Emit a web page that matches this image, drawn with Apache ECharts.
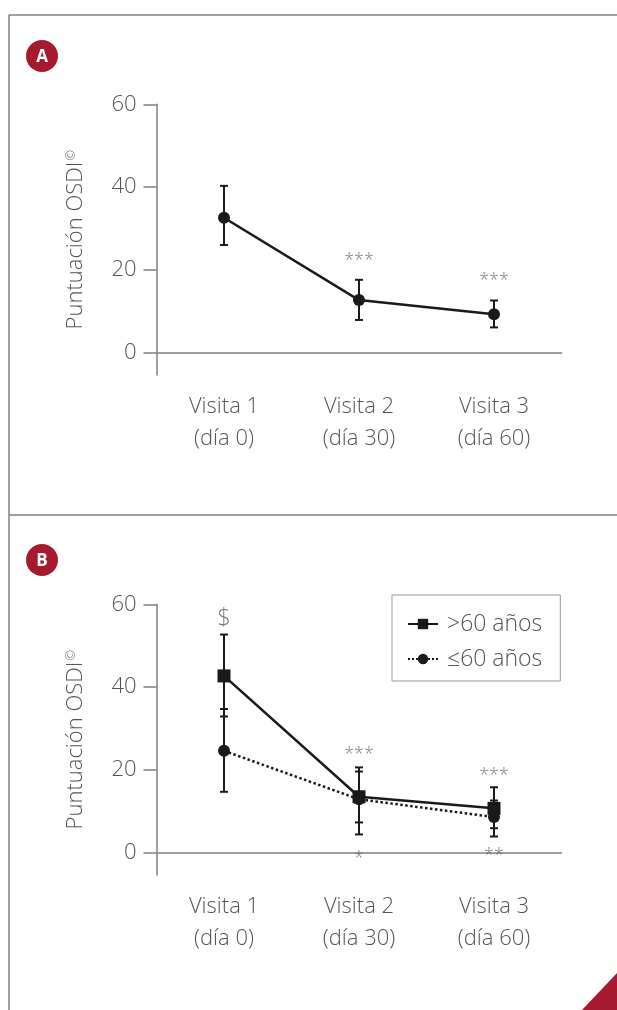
<!DOCTYPE html>
<html>
<head>
<meta charset="utf-8">
<script src="https://cdn.jsdelivr.net/npm/echarts@6/dist/echarts.min.js"></script>
<style>
  html, body { margin: 0; padding: 0; background: #fff; }
  #main { width: 617px; height: 1010px; }
</style>
</head>
<body>
<div id="main"></div>
<script>
// datos
const categories = ['Visita 1\n(día 0)', 'Visita 2\n(día 30)', 'Visita 3\n(día 60)']
const yTicks = [0, 20, 40, 60]

// panel A: todos los pacientes
const totalMean = [32.6, 12.7, 9.3]
const totalLow = [26.0, 7.9, 6.1]
const totalHigh = [40.3, 17.6, 12.6]
const annotA = [
  { x: 1, y: 22.2, text: '***' },
  { x: 2, y: 17.3, text: '***' }
]

// panel B: por edad
const overName = '>60 años'
const overMean = [42.7, 13.5, 10.7]
const overLow = [32.9, 4.4, 5.9]
const overHigh = [52.7, 20.6, 15.8]
const underName = '≤60 años'
const underMean = [24.6, 12.9, 8.6]
const underLow = [14.7, 7.3, 3.9]
const underHigh = [34.7, 19.6, 12.6]
const annotB = [
  { x: 0, y: 56.7, text: '$' },
  { x: 1, y: 23.6, text: '***' },
  { x: 1, y: -1.4, text: '*' },
  { x: 2, y: 18.6, text: '***' },
  { x: 2, y: -0.9, text: '**' }
]

const FONT = "'Open Sans', 'Noto Sans', sans-serif"
const AXIS_GREY = '#808080'
const TEXT_GREY = '#555555'
const INK = '#1a1a1a'
const RED = '#a6192e'

const chart = echarts.init(document.getElementById('main'))

function xAxisCfg(gridIndex) {
  return {
    type: 'category',
    gridIndex,
    data: categories,
    boundaryGap: true,
    axisLine: { lineStyle: { color: AXIS_GREY, width: 1.5 } },
    axisTick: { alignWithLabel: true, length: 11, lineStyle: { color: AXIS_GREY, width: 1.5 } },
    axisLabel: { fontFamily: FONT, fontWeight: 300, fontSize: 22, lineHeight: 32, color: TEXT_GREY, margin: 16 },
    splitLine: { show: false }
  }
}

function yAxisCfg(gridIndex) {
  return {
    type: 'value',
    gridIndex,
    min: -5.4,
    max: 60,
    name: 'Puntuación OSDI{sup|©}',
    nameLocation: 'middle',
    nameGap: 70,
    nameTextStyle: {
      fontFamily: FONT,
      fontWeight: 300,
      fontSize: 22,
      color: TEXT_GREY,
      rich: {
        sup: { fontFamily: FONT, fontSize: 13, color: TEXT_GREY, verticalAlign: 'top', padding: [0, 0, 9, 1] }
      }
    },
    axisLine: { show: true, lineStyle: { color: AXIS_GREY, width: 1.5 } },
    axisTick: { show: true, length: 13, customValues: yTicks, lineStyle: { color: AXIS_GREY, width: 1.5 } },
    axisLabel: { fontFamily: FONT, fontWeight: 300, fontSize: 22, color: TEXT_GREY, margin: 20, customValues: yTicks },
    splitLine: { show: false }
  }
}

function errorSeries(idx, low, high) {
  return {
    type: 'custom',
    xAxisIndex: idx,
    yAxisIndex: idx,
    z: 1,
    silent: true,
    data: low.map((l, i) => [i, l, high[i]]),
    renderItem: function (params, api) {
      const x = api.value(0)
      const lo = api.coord([x, api.value(1)])
      const hi = api.coord([x, api.value(2)])
      const w = 4
      const style = { stroke: INK, lineWidth: 2 }
      return {
        type: 'group',
        children: [
          { type: 'line', shape: { x1: lo[0], y1: lo[1], x2: hi[0], y2: hi[1] }, style },
          { type: 'line', shape: { x1: lo[0] - w, y1: lo[1], x2: lo[0] + w, y2: lo[1] }, style },
          { type: 'line', shape: { x1: hi[0] - w, y1: hi[1], x2: hi[0] + w, y2: hi[1] }, style }
        ]
      }
    }
  }
}

function annotSeries(idx, list) {
  return {
    type: 'scatter',
    xAxisIndex: idx,
    yAxisIndex: idx,
    symbolSize: 0,
    silent: true,
    data: list.map((a) => ({
      value: [a.x, a.y],
      name: a.text,
      label: a.text === '$' ? { fontSize: 23 } : {}
    })),
    label: {
      show: true,
      position: 'inside',
      formatter: '{b}',
      fontFamily: FONT,
      fontWeight: 300,
      fontSize: 18,
      color: TEXT_GREY
    }
  }
}

const option = {
  animation: false,
  backgroundColor: '#ffffff',
  grid: [
    { left: 156.5, top: 104.3, width: 405, height: 270.7 },
    { left: 156.5, top: 604.3, width: 405, height: 270.7 }
  ],
  xAxis: [xAxisCfg(0), xAxisCfg(1)],
  yAxis: [yAxisCfg(0), yAxisCfg(1)],
  legend: {
    data: [overName, underName],
    left: 392,
    top: 595,
    orient: 'vertical',
    itemWidth: 30,
    itemHeight: 13,
    itemGap: 11,
    padding: [17, 18, 10, 15],
    borderColor: '#999999',
    borderWidth: 1,
    textStyle: { fontFamily: FONT, fontWeight: 300, fontSize: 23, lineHeight: 24, color: TEXT_GREY, padding: [0, 0, 0, 4] }
  },
  graphic: [
    // marco de los paneles
    { type: 'line', shape: { x1: 9, y1: 15, x2: 617, y2: 15 }, style: { stroke: AXIS_GREY, lineWidth: 1.5 } },
    { type: 'line', shape: { x1: 9, y1: 515, x2: 617, y2: 515 }, style: { stroke: AXIS_GREY, lineWidth: 1.5 } },
    { type: 'line', shape: { x1: 9, y1: 15, x2: 9, y2: 1010 }, style: { stroke: AXIS_GREY, lineWidth: 1.5 } },
    // etiquetas A / B
    { type: 'circle', shape: { cx: 42, cy: 56, r: 16 }, style: { fill: RED } },
    { type: 'text', x: 42, y: 57, style: { text: 'A', fill: '#fff', font: "bold 17px 'Open Sans', sans-serif", align: 'center', verticalAlign: 'middle' } },
    { type: 'circle', shape: { cx: 42, cy: 560, r: 16 }, style: { fill: RED } },
    { type: 'text', x: 42, y: 561, style: { text: 'B', fill: '#fff', font: "bold 17px 'Open Sans', sans-serif", align: 'center', verticalAlign: 'middle' } },
    // esquina roja
    { type: 'polygon', shape: { points: [[582, 1010], [617, 973], [617, 1010]] }, style: { fill: RED } }
  ],
  series: [
    errorSeries(0, totalLow, totalHigh),
    {
      type: 'line',
      xAxisIndex: 0,
      yAxisIndex: 0,
      z: 3,
      data: totalMean,
      symbol: 'circle',
      symbolSize: 12,
      itemStyle: { color: INK },
      lineStyle: { color: INK, width: 2.5 }
    },
    annotSeries(0, annotA),
    errorSeries(1, overLow, overHigh),
    errorSeries(1, underLow, underHigh),
    {
      name: overName,
      type: 'line',
      xAxisIndex: 1,
      yAxisIndex: 1,
      z: 3,
      data: overMean,
      symbol: 'rect',
      symbolSize: 13,
      itemStyle: { color: INK },
      lineStyle: { color: INK, width: 2.5 }
    },
    {
      name: underName,
      type: 'line',
      xAxisIndex: 1,
      yAxisIndex: 1,
      z: 3,
      data: underMean,
      symbol: 'circle',
      symbolSize: 12,
      itemStyle: { color: INK },
      lineStyle: { color: INK, width: 2.5, type: 'dotted' }
    },
    annotSeries(1, annotB)
  ]
}

chart.setOption(option)
</script>
</body>
</html>
